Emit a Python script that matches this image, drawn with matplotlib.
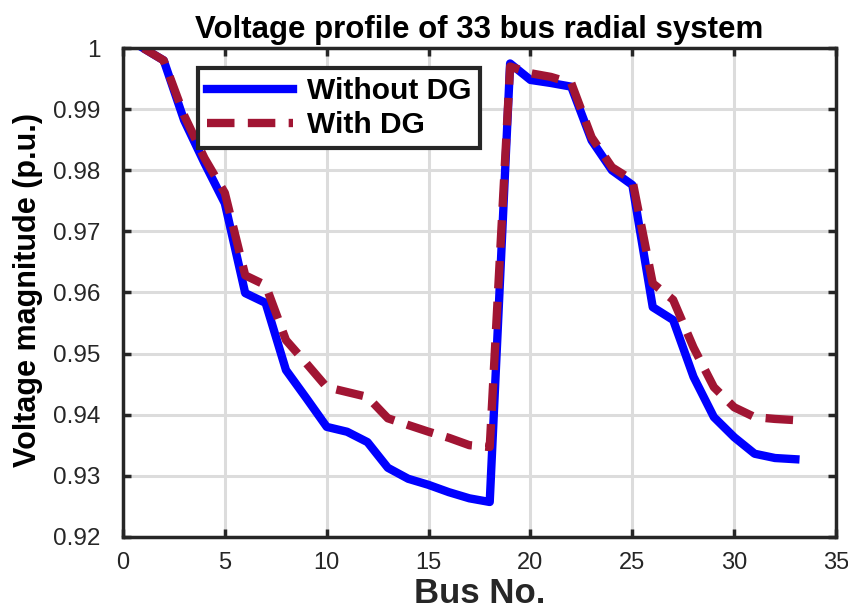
import matplotlib
matplotlib.use('Agg')
import matplotlib.pyplot as plt

# bus voltage profile (p.u.)
bus = list(range(1, 34))
v_without_dg = [1.0, 0.998, 0.9882, 0.9812, 0.9746, 0.9599, 0.9583, 0.9473, 0.9427, 0.9380,
                0.9372, 0.9355, 0.9313, 0.9295, 0.9285, 0.9273, 0.9263, 0.9257, 0.9975, 0.9948,
                0.9943, 0.9937, 0.9849, 0.9800, 0.9776, 0.9576, 0.9555, 0.9462, 0.9396, 0.9363,
                0.9336, 0.9329, 0.9327]
v_with_dg = [1.0, 0.998, 0.9890, 0.9820, 0.9763, 0.9628, 0.9612, 0.9522, 0.9484, 0.9445,
             0.9437, 0.9429, 0.9394, 0.9383, 0.9372, 0.9362, 0.9350, 0.9347, 0.9970, 0.9959,
             0.9953, 0.9943, 0.9854, 0.9805, 0.9784, 0.9615, 0.9588, 0.9510, 0.9445, 0.9412,
             0.9396, 0.9393, 0.9391]

xticks = [0, 5, 10, 15, 20, 25, 30, 35]
yticks = [0.92, 0.93, 0.94, 0.95, 0.96, 0.97, 0.98, 0.99, 1.0]
ytick_labels = ['0.92', '0.93', '0.94', '0.95', '0.96', '0.97', '0.98', '0.99', '1']

plt.rcParams['font.family'] = ['Liberation Sans', 'DejaVu Sans']

fig = plt.figure(figsize=(8.48, 6.1), dpi=100)
ax = fig.add_axes([0.145, 0.12, 0.841, 0.801])

ax.plot(bus, v_without_dg, color='blue', lw=6, label='Without DG', solid_joinstyle='round')
ax.plot(bus, v_with_dg, color='#A11533', lw=6, ls=(0, (3.3, 1.6)), label='With DG')

ax.set_xlim(0, 35)
ax.set_ylim(0.92, 1.0)
ax.set_xticks(xticks)
ax.set_xticklabels([str(t) for t in xticks], fontsize=17)
ax.set_yticks(yticks)
ax.set_yticklabels(ytick_labels, fontsize=17.5)
ax.tick_params(direction='in', length=6, width=2.5, top=True, right=True, colors='#262626',
               labelcolor='#262626')
ax.tick_params(axis='x', pad=11)
ax.tick_params(axis='y', pad=16)
ax.grid(True, color='#dcdcdc', lw=2.2)
ax.set_axisbelow(True)
for s in ax.spines.values():
    s.set_linewidth(2.5)
    s.set_color('#262626')

ax.set_title('Voltage profile of 33 bus radial system', fontsize=22.5, fontweight='bold', pad=7)
ax.set_xlabel('Bus No.', fontsize=25, fontweight='bold', color='#262626', labelpad=2)
ax.set_ylabel('Voltage magnitude (p.u.)', fontsize=22, fontweight='bold')
ax.yaxis.set_label_coords(-0.112, 0.505)

leg = ax.legend(loc='upper left', bbox_to_anchor=(0.105, 0.959),
                prop={'weight': 'bold', 'size': 21.5}, fancybox=False, framealpha=1,
                edgecolor='#262626', handlelength=2.9, borderpad=0.3, labelspacing=0.2,
                handletextpad=0.45, borderaxespad=0)
leg.get_frame().set_linewidth(3)

fig.savefig('out.png', dpi=100)
